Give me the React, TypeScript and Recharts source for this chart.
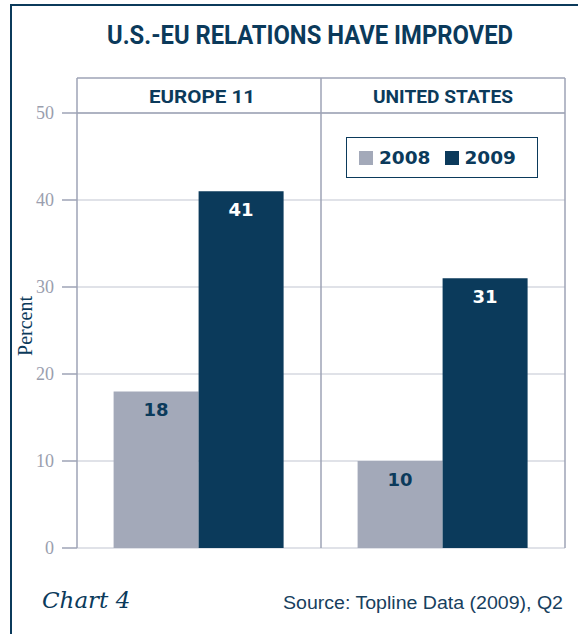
import { BarChart, Bar, XAxis, YAxis, CartesianGrid, LabelList } from "recharts";

const regions = ["EUROPE 11", "UNITED STATES"];
const share2008 = [18, 10];
const share2009 = [41, 31];
const yTicks = [0, 10, 20, 30, 40, 50];
const years = ["2008", "2009"];

const NAVY = "#0b3a5b";
const GRAY = "#a3a9b9";
const RULE = "#9ea3b6";

const data = regions.map((region, i) => ({
  region,
  y2008: share2008[i],
  y2009: share2009[i],
}));

// plot box edges (px)
const LEFT = 77;
const RIGHT = 565;
const MID = 321;
const HEAD_TOP = 78;
const PLOT_TOP = 113;
const PLOT_BOTTOM = 548;

function YearLegend() {
  const colors = [GRAY, NAVY];
  return (
    <div
      style={{
        position: "absolute",
        left: 346,
        top: 137,
        width: 192,
        height: 41,
        border: `1.5px solid ${NAVY}`,
        background: "white",
        display: "flex",
        alignItems: "center",
        boxSizing: "border-box",
        paddingLeft: 12,
        fontFamily: "'DejaVu Sans', sans-serif",
        fontWeight: "bold",
        fontSize: 18.5,
        color: NAVY,
      }}
    >
      {years.map((y, i) => (
        <span key={y} style={{ display: "flex", alignItems: "center", marginRight: 14 }}>
          <span style={{ width: 14, height: 14, background: colors[i], marginRight: 6 }} />
          {y}
        </span>
      ))}
    </div>
  );
}

export default function App() {
  return (
    <div
      style={{
        position: "absolute",
        left: 0,
        top: 0,
        width: 578,
        height: 634,
        overflow: "hidden",
        background: "white",
      }}
    >
      <div
        style={{
          position: "absolute",
          left: 10,
          top: 4,
          width: 640,
          height: 700,
          border: `2px solid ${NAVY}`,
        }}
      />
      <BarChart
        width={578}
        height={634}
        data={data}
        margin={{ top: PLOT_TOP, right: 578 - RIGHT, bottom: 634 - PLOT_BOTTOM, left: 17 }}
        barCategoryGap="15%"
        barGap={0}
      >
        <CartesianGrid vertical={false} stroke="#c2c5d1" strokeWidth={1.2} />
        <XAxis
          dataKey="region"
          tick={false}
          tickLine={false}
          height={0}
          axisLine={{ stroke: RULE, strokeWidth: 1.5 }}
        />
        <YAxis
          width={60}
          domain={[0, 50]}
          ticks={yTicks}
          interval={0}
          tickSize={15}
          tickMargin={8}
          axisLine={{ stroke: RULE, strokeWidth: 1.5 }}
          tickLine={{ stroke: RULE, strokeWidth: 1.5 }}
          tick={{ fill: "#9a9eae", fontSize: 18, fontFamily: "'Liberation Serif', serif" }}
        />
        <Bar dataKey="y2008" name="2008" fill={GRAY} isAnimationActive={false}>
          <LabelList
            dataKey="y2008"
            position="insideTop"
            offset={12}
            fill={NAVY}
            fontSize={18}
            fontWeight="bold"
            fontFamily="'DejaVu Sans', sans-serif"
          />
        </Bar>
        <Bar dataKey="y2009" name="2009" fill={NAVY} isAnimationActive={false}>
          <LabelList
            dataKey="y2009"
            position="insideTop"
            offset={12}
            fill="#ffffff"
            fontSize={18}
            fontWeight="bold"
            fontFamily="'DejaVu Sans', sans-serif"
          />
        </Bar>
      </BarChart>
      <YearLegend />
      <svg
        width={578}
        height={634}
        style={{ position: "absolute", left: 0, top: 0, pointerEvents: "none" }}
      >
        <g stroke={RULE} strokeWidth={1.5}>
          <line x1={LEFT} x2={RIGHT} y1={HEAD_TOP} y2={HEAD_TOP} />
          <line x1={LEFT} x2={RIGHT} y1={PLOT_TOP} y2={PLOT_TOP} />
          <line x1={LEFT} x2={LEFT} y1={HEAD_TOP} y2={PLOT_TOP} />
          <line x1={RIGHT} x2={RIGHT} y1={HEAD_TOP} y2={PLOT_BOTTOM} />
          <line x1={MID} x2={MID} y1={HEAD_TOP} y2={PLOT_BOTTOM} />
        </g>
        <text
          x={310}
          y={44}
          textAnchor="middle"
          fill={NAVY}
          fontFamily="Roboto, sans-serif"
          fontWeight="bold"
          fontSize={25}
          textLength={406}
          lengthAdjust="spacingAndGlyphs"
        >
          U.S.-EU RELATIONS HAVE IMPROVED
        </text>
        <text
          x={202}
          y={103}
          textAnchor="middle"
          fill={NAVY}
          fontFamily="Roboto, sans-serif"
          fontWeight="bold"
          fontSize={18}
          textLength={106}
          lengthAdjust="spacingAndGlyphs"
        >
          {regions[0]}
        </text>
        <text
          x={443}
          y={103}
          textAnchor="middle"
          fill={NAVY}
          fontFamily="Roboto, sans-serif"
          fontWeight="bold"
          fontSize={18}
          textLength={140}
          lengthAdjust="spacingAndGlyphs"
        >
          {regions[1]}
        </text>
        <text
          transform="translate(32 326) rotate(-90)"
          textAnchor="middle"
          fill={NAVY}
          fontFamily="'Liberation Serif', serif"
          fontSize={20}
        >
          Percent
        </text>
        <text
          x={42}
          y={608}
          fill={NAVY}
          fontFamily="'DejaVu Serif', serif"
          fontStyle="italic"
          fontSize={23}
        >
          Chart 4
        </text>
        <text
          x={563}
          y={609}
          textAnchor="end"
          fill="#17405e"
          fontFamily="'Liberation Sans', sans-serif"
          fontSize={17.5}
          textLength={280}
          lengthAdjust="spacingAndGlyphs"
        >
          Source: Topline Data (2009), Q2
        </text>
      </svg>
    </div>
  );
}
